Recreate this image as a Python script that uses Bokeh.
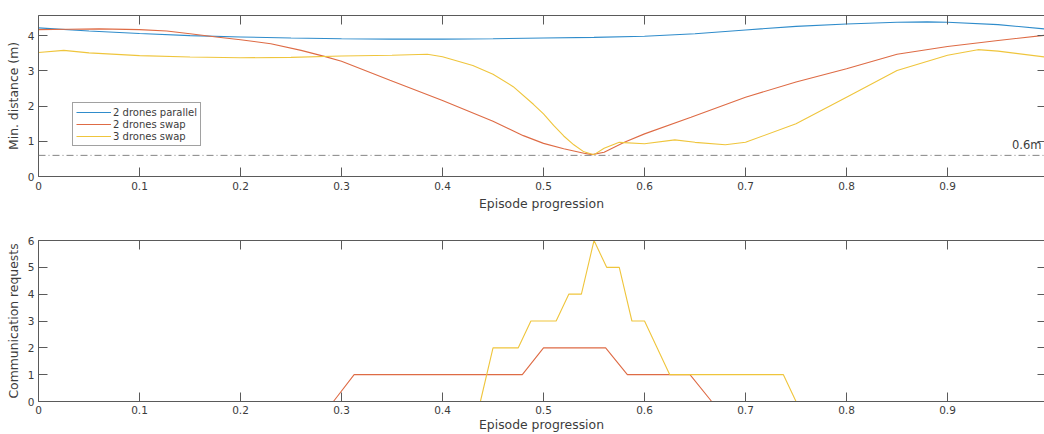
from bokeh.plotting import figure
from bokeh.models import LinearAxis, FixedTicker, Range1d, Span, Label, CustomLabelingPolicy
from bokeh.layouts import column
from bokeh.embed import file_html
from bokeh.resources import INLINE

# ---------------- data ----------------
series_names = ["2 drones parallel", "2 drones swap", "3 drones swap"]
series_colors = ["#2f8ccb", "#de6b45", "#efc53c"]

# Top panel: minimum distance (m) vs episode progression
par_x = [0, 0.05, 0.1, 0.15, 0.2, 0.25, 0.3, 0.35, 0.4, 0.45, 0.5, 0.55, 0.6,
         0.65, 0.7, 0.75, 0.8, 0.85, 0.88, 0.9, 0.95, 1.0]
par_y = [4.22, 4.13, 4.06, 4.0, 3.96, 3.93, 3.91, 3.9, 3.9, 3.91, 3.93, 3.95,
         3.98, 4.05, 4.16, 4.26, 4.33, 4.38, 4.39, 4.38, 4.31, 4.18]

swap2_x = [0, 0.03, 0.06, 0.1, 0.127, 0.15, 0.176, 0.2, 0.23, 0.26, 0.283, 0.3,
           0.348, 0.4, 0.45, 0.48, 0.5, 0.52, 0.54, 0.548, 0.56, 0.58, 0.6,
           0.646, 0.7, 0.75, 0.8, 0.85, 0.9, 0.95, 1.0]
swap2_y = [4.17, 4.18, 4.19, 4.17, 4.13, 4.05, 3.96, 3.88, 3.77, 3.58, 3.41,
           3.27, 2.73, 2.16, 1.57, 1.16, 0.94, 0.79, 0.66, 0.62, 0.69, 0.97,
           1.21, 1.68, 2.25, 2.68, 3.06, 3.47, 3.69, 3.86, 4.02]

swap3_x = [0, 0.025, 0.05, 0.1, 0.15, 0.2, 0.25, 0.3, 0.35, 0.385, 0.4, 0.43,
           0.45, 0.47, 0.49, 0.5, 0.51, 0.52, 0.53, 0.54, 0.55, 0.56, 0.575,
           0.6, 0.63, 0.65, 0.68, 0.7, 0.75, 0.8, 0.85, 0.9, 0.93, 0.95, 1.0]
swap3_y = [3.52, 3.58, 3.51, 3.43, 3.39, 3.37, 3.38, 3.42, 3.44, 3.47, 3.4,
           3.15, 2.9, 2.55, 2.05, 1.78, 1.45, 1.15, 0.9, 0.7, 0.62, 0.8, 0.97,
           0.93, 1.04, 0.97, 0.9, 0.97, 1.5, 2.25, 3.01, 3.44, 3.6, 3.56, 3.38]

threshold = [0.6]
threshold_label = "0.6m"

# Bottom panel: communication requests vs episode progression
req_par_x = [0, 1.0]
req_par_y = [0, 0]
req_swap2_x = [0, 0.292, 0.3125, 0.479, 0.5, 0.5615, 0.583, 0.645, 0.6665, 1.0]
req_swap2_y = [0, 0, 1, 1, 2, 2, 1, 1, 0, 0]
req_swap3_x = [0, 0.4375, 0.45, 0.475, 0.4875, 0.5125, 0.525, 0.5375, 0.55,
               0.5625, 0.575, 0.5875, 0.6, 0.625, 0.7375, 0.75, 1.0]
req_swap3_y = [0, 0, 2, 2, 3, 3, 4, 4, 6, 5, 5, 3, 3, 1, 1, 0, 0]

x_ticks = [0, 0.1, 0.2, 0.3, 0.4, 0.5, 0.6, 0.7, 0.8, 0.9]
x_tick_labels = ["0", "0.1", "0.2", "0.3", "0.4", "0.5", "0.6", "0.7", "0.8", "0.9"]
top_y_ticks = [0, 1, 2, 3, 4]
bot_y_ticks = [0, 1, 2, 3, 4, 5, 6]

x_label = "Episode progression"
top_y_label = "Min. distance (m)"
bot_y_label = "Communication requests"

# ---------------- styling ----------------
FONT = "DejaVu Sans"
TEXT = "#3c3c3c"
AXC = "#5a5a5a"
TICK_FS = "10.5px"
LABEL_FS = "12.4px"

NO_LABELS_JS = """
try {
  const idx = Array.from(indices.ones());
  for (const i of idx) { indices.unset(i); }
} catch (e) {}
return indices;
"""


def style_axis(ax, ticks, labels=None, show_labels=True, tick_len=9, line=True):
    ax.ticker = FixedTicker(ticks=ticks)
    if labels is not None:
        ax.major_label_overrides = {t: l for t, l in zip(ticks, labels)}
    ax.major_tick_in = tick_len
    ax.major_tick_out = 0
    ax.minor_tick_line_color = None
    ax.major_tick_line_color = AXC
    ax.axis_line_color = AXC if line else None
    ax.major_label_text_font = FONT
    ax.major_label_text_color = TEXT
    ax.axis_label_text_font = FONT
    ax.axis_label_text_color = TEXT
    ax.axis_label_text_font_style = "normal"
    ax.axis_label_text_font_size = LABEL_FS
    if show_labels:
        ax.major_label_text_font_size = TICK_FS
    else:
        ax.major_label_policy = CustomLabelingPolicy(code=NO_LABELS_JS)
        ax.major_label_text_font_size = "0px"
        ax.major_label_standoff = 0
        ax.axis_label_standoff = 0


def make_fig(height, y_end, y_ticks, y_label, top_border, bottom_border,
             tick_standoff, label_standoff):
    p = figure(width=1044, height=height, output_backend="svg",
               toolbar_location=None, x_range=Range1d(0, 0.996),
               y_range=Range1d(0, y_end))
    p.min_border_left = 38
    p.min_border_right = 0
    p.min_border_top = top_border
    p.min_border_bottom = bottom_border
    p.outline_line_color = None
    p.xgrid.grid_line_color = None
    p.ygrid.grid_line_color = None
    p.background_fill_color = "white"
    p.border_fill_color = "white"

    style_axis(p.xaxis[0], x_ticks, x_tick_labels)
    p.xaxis[0].axis_label = x_label
    p.xaxis[0].major_label_standoff = tick_standoff
    p.xaxis[0].axis_label_standoff = label_standoff
    style_axis(p.yaxis[0], y_ticks, [str(v) for v in y_ticks])
    p.yaxis[0].axis_label = y_label
    p.yaxis[0].major_label_standoff = 4
    p.yaxis[0].axis_label_standoff = 4

    top_ax = LinearAxis()
    style_axis(top_ax, x_ticks, show_labels=False)
    p.add_layout(top_ax, "above")
    right_ax = LinearAxis()
    style_axis(right_ax, y_ticks, show_labels=False, tick_len=7, line=False)
    p.add_layout(right_ax, "right")
    return p


# ---------------- top panel ----------------
p1 = make_fig(220, 4.57, top_y_ticks, top_y_label, 15, 44, 5, 3)
for xs, ys, name, col in zip([par_x, swap2_x, swap3_x], [par_y, swap2_y, swap3_y],
                             series_names, series_colors):
    p1.line(xs, ys, line_color=col, line_width=1.1, legend_label=name)

p1.add_layout(Span(location=threshold[0], dimension="width", line_color="#858585",
                   line_width=1, line_dash="7 3 1 3"))
p1.add_layout(Label(x=0.996, y=threshold[0], text=threshold_label, text_align="right",
                    text_baseline="bottom", x_offset=-3, y_offset=3,
                    text_font=FONT, text_font_size="11.5px", text_color=TEXT))

lg = p1.legend[0]
lg.location = (34, 30)
lg.label_text_font = FONT
lg.label_text_font_size = "10px"
lg.label_text_color = TEXT
lg.glyph_width = 35
lg.glyph_height = 12
lg.label_height = 12
lg.label_standoff = 2
lg.spacing = 0
lg.padding = 3
lg.margin = 0
lg.border_line_color = "#444444"
lg.border_line_width = 1
lg.background_fill_color = "white"
lg.background_fill_alpha = 1.0

# ---------------- bottom panel ----------------
p2 = make_fig(214, 6, bot_y_ticks, bot_y_label, 20, 32, 4, 0)
for xs, ys, col in zip([req_par_x, req_swap2_x, req_swap3_x],
                       [req_par_y, req_swap2_y, req_swap3_y], series_colors):
    p2.line(xs, ys, line_color=col, line_width=1.1)

layout = column(p1, p2, spacing=0)
open("out.html", "w").write(file_html(layout, INLINE))
